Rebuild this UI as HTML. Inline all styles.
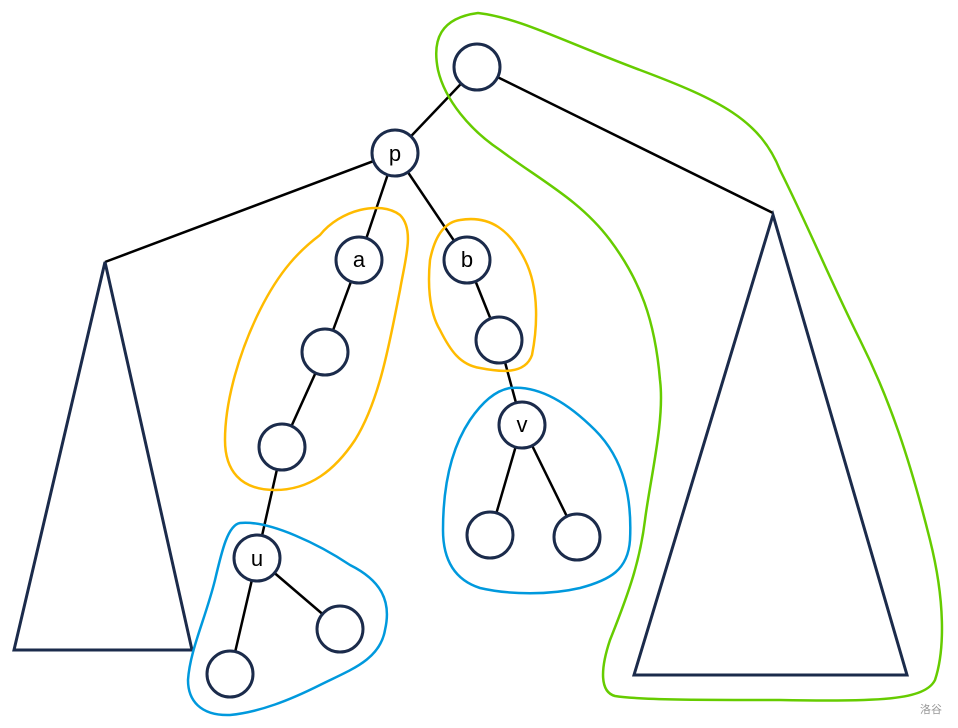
<!DOCTYPE html>
<html><head><meta charset="utf-8"><style>html,body{margin:0;padding:0;background:#fff}svg{display:block}</style></head>
<body>
<svg width="958" height="728" viewBox="0 0 958 728" xmlns="http://www.w3.org/2000/svg">
<g stroke="#000" stroke-width="2.5" fill="none">
<line x1="477" y1="67" x2="395" y2="153"/>
<line x1="477" y1="67" x2="773" y2="213"/>
<line x1="395" y1="153" x2="105" y2="262"/>
<line x1="395" y1="153" x2="359" y2="260"/>
<line x1="395" y1="153" x2="467" y2="260"/>
<line x1="359" y1="260" x2="325" y2="352"/>
<line x1="325" y1="352" x2="282" y2="447"/>
<line x1="282" y1="447" x2="257" y2="558"/>
<line x1="257" y1="558" x2="340" y2="629"/>
<line x1="257" y1="558" x2="230" y2="674"/>
<line x1="467" y1="260" x2="499" y2="340"/>
<line x1="499" y1="340" x2="522" y2="425"/>
<line x1="522" y1="425" x2="490" y2="535"/>
<line x1="522" y1="425" x2="577" y2="537"/>
</g>
<g stroke="#1b2b4b" stroke-width="3" fill="none">
<polygon points="105,262 14,650 192,650"/>
<polygon points="773,215 634,675 907,675"/>
</g>
<g stroke="#1b2b4b" stroke-width="3" fill="#fff">
<circle cx="477" cy="67" r="23"/>
<circle cx="395" cy="153" r="23"/>
<circle cx="359" cy="260" r="23"/>
<circle cx="467" cy="260" r="23"/>
<circle cx="325" cy="352" r="23"/>
<circle cx="282" cy="447" r="23"/>
<circle cx="499" cy="340" r="23"/>
<circle cx="522" cy="425" r="23"/>
<circle cx="490" cy="535" r="23"/>
<circle cx="577" cy="537" r="23"/>
<circle cx="257" cy="558" r="23"/>
<circle cx="340" cy="629" r="23"/>
<circle cx="230" cy="674" r="23"/>
</g>
<g font-family="Liberation Sans, sans-serif" font-size="22" text-anchor="middle" fill="#000">
<text x="395" y="161">p</text>
<text x="359" y="267">a</text>
<text x="467" y="267">b</text>
<text x="522" y="432">v</text>
<text x="257" y="566">u</text>
</g>
<g fill="none" stroke-width="2.5" stroke-linecap="round" stroke-linejoin="round">
<path stroke="#66cc00" d="M478,13 C520,18 560,40 640,70 C720,100 760,120 780,170 C810,230 830,280 860,340 C890,400 910,460 930,540 C945,600 945,650 935,680 C925,700 880,702 780,700 C700,700 640,700 615,696 C600,692 600,670 610,640 C630,590 640,560 645,520 C650,480 665,420 660,380 C655,320 640,280 610,240 C580,200 540,180 500,150 C470,130 445,100 438,70 C432,40 440,18 478,13 Z"/>
<path stroke="#ffbb00" d="M320,235 C340,210 380,200 400,215 C415,230 405,260 400,290 C390,340 380,400 355,440 C335,470 310,490 275,490 C240,490 225,470 225,440 C225,400 240,350 260,310 C280,270 300,250 320,235 Z"/>
<path stroke="#ffbb00" d="M460,220 C490,215 510,230 525,260 C540,290 537,330 532,355 C525,375 500,372 480,368 C460,365 450,350 440,330 C428,310 428,280 430,260 C435,235 445,222 460,220 Z"/>
<path stroke="#0099dd" d="M510,388 C540,385 570,405 595,430 C625,460 632,500 630,540 C628,570 610,580 580,588 C550,595 510,595 480,588 C455,580 443,560 443,530 C443,490 450,450 470,420 C485,398 498,390 510,388 Z"/>
<path stroke="#0099dd" d="M240,523 C270,520 320,545 350,565 C380,580 392,600 385,630 C380,660 350,670 320,685 C290,700 260,712 230,715 C200,716 188,700 188,680 C190,650 205,620 215,580 C222,550 228,525 240,523 Z"/>
</g>
<text x="931" y="713" font-family="Liberation Sans, 'Noto Sans CJK SC', sans-serif" font-size="11" fill="#999" text-anchor="middle">洛谷</text>
</svg>
</body></html>
